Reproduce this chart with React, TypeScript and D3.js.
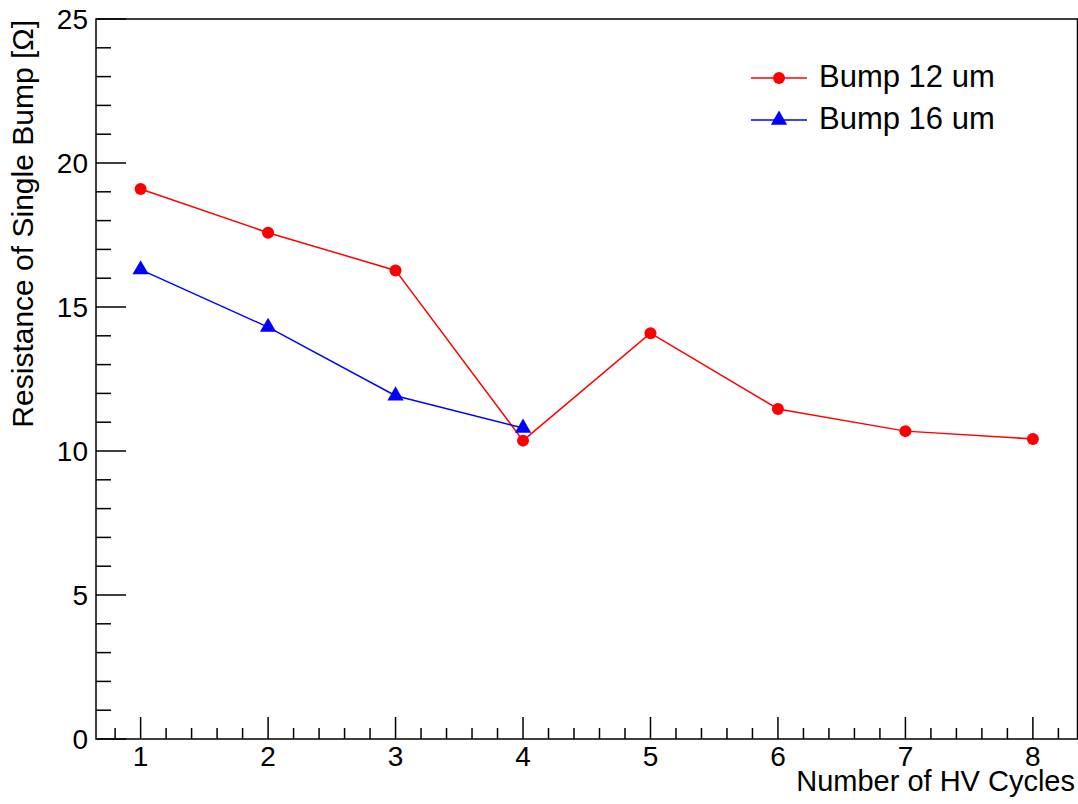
import React from 'react';
import * as d3 from 'd3';

const cycles = [1, 2, 3, 4, 5, 6, 7, 8];
const bump12 = [19.1, 17.58, 16.27, 10.36, 14.09, 11.46, 10.69, 10.42];
const cycles16 = [1, 2, 3, 4];
const bump16 = [16.3, 14.3, 11.92, 10.8];
const xTicks = [1, 2, 3, 4, 5, 6, 7, 8];
const yTicks = [0, 5, 10, 15, 20, 25];

const W = 1078;
const H = 804;
const M = { left: 96, right: 1077.5, top: 19, bottom: 739 };
const FONT = '"Liberation Sans", Arial, Helvetica, sans-serif';

export default function App() {
  const x = d3.scaleLinear().domain([0.65, 8.35]).range([M.left, M.right]);
  const y = d3.scaleLinear().domain([0, 25]).range([M.bottom, M.top]);

  const line = d3.line<[number, number]>()
    .x(d => x(d[0]))
    .y(d => y(d[1]));

  const pts12: [number, number][] = cycles.map((c, i) => [c, bump12[i]]);
  const pts16: [number, number][] = cycles16.map((c, i) => [c, bump16[i]]);

  const xMinor = d3.range(0.8, 8.35, 0.2).filter(v => Math.abs(v - Math.round(v)) > 0.01);
  const yMinor = d3.range(0, 25.01, 1).filter(v => v % 5 !== 0);

  const tri = d3.symbol().type(d3.symbolTriangle).size(115)();

  return (
    <svg width={W} height={H} style={{ position: 'absolute', left: 0, top: 0, background: '#fff' }}
      fontFamily={FONT}>
      {/* frame */}
      <rect x={M.left} y={M.top} width={M.right - M.left} height={M.bottom - M.top}
        fill="none" stroke="#000" strokeWidth={1.5} />

      {/* x ticks */}
      {xTicks.map(t => (
        <g key={'xt' + t}>
          <line x1={x(t)} x2={x(t)} y1={M.bottom} y2={M.bottom - 22} stroke="#000" strokeWidth={1.5} />
          <text x={x(t)} y={766} fontSize={28} textAnchor="middle">{t}</text>
        </g>
      ))}
      {xMinor.map(t => (
        <line key={'xm' + t} x1={x(t)} x2={x(t)} y1={M.bottom} y2={M.bottom - 11} stroke="#000" strokeWidth={1.5} />
      ))}

      {/* y ticks */}
      {yTicks.map(t => (
        <g key={'yt' + t}>
          <line x1={M.left} x2={M.left + 30} y1={y(t)} y2={y(t)} stroke="#000" strokeWidth={1.5} />
          <text x={88} y={y(t)} dy="0.36em" fontSize={28} textAnchor="end">{t}</text>
        </g>
      ))}
      {yMinor.map(t => (
        <line key={'ym' + t} x1={M.left} x2={M.left + 15} y1={y(t)} y2={y(t)} stroke="#000" strokeWidth={1.5} />
      ))}

      {/* axis titles */}
      <text x={1075} y={791} fontSize={29} textAnchor="end">Number of HV Cycles</text>
      <text transform="translate(33,20) rotate(-90)" fontSize={30} textAnchor="end">
        Resistance of Single Bump [Ω]
      </text>

      {/* series: Bump 12 um */}
      <path d={line(pts12) || ''} fill="none" stroke="#ff0000" strokeWidth={1.5} />
      {pts12.map((p, i) => (
        <circle key={'r' + i} cx={x(p[0])} cy={y(p[1])} r={6} fill="#ff0000" />
      ))}

      {/* series: Bump 16 um */}
      <path d={line(pts16) || ''} fill="none" stroke="#0000ff" strokeWidth={1.5} />
      {pts16.map((p, i) => (
        <path key={'b' + i} d={tri || ''} transform={`translate(${x(p[0])},${y(p[1])})`} fill="#0000ff" />
      ))}

      {/* legend */}
      <line x1={751} x2={807} y1={78} y2={78} stroke="#ff0000" strokeWidth={1.5} />
      <circle cx={779} cy={78} r={6} fill="#ff0000" />
      <text x={819} y={87} fontSize={31}>Bump 12 um</text>
      <line x1={751} x2={807} y1={120} y2={120} stroke="#0000ff" strokeWidth={1.5} />
      <path d={tri || ''} transform="translate(779,120)" fill="#0000ff" />
      <text x={819} y={129} fontSize={31}>Bump 16 um</text>
    </svg>
  );
}
